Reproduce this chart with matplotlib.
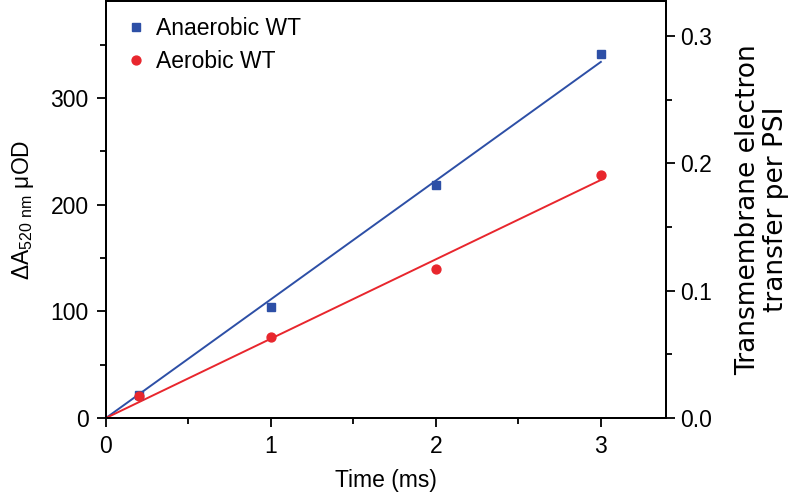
import matplotlib
matplotlib.use("Agg")
import matplotlib.pyplot as plt
from matplotlib.ticker import MultipleLocator, FormatStrFormatter

plt.rcParams['font.family'] = ['Liberation Sans', 'DejaVu Sans']
plt.rcParams['mathtext.fontset'] = 'custom'
plt.rcParams['mathtext.rm'] = 'Liberation Sans'

# data
time = [0.2, 1.0, 2.0, 3.0]
anaerobic = [22, 104, 218, 341]
aerobic = [21, 76, 140, 228]
fit_t = [0, 3]
anaerobic_slope = 111.3
aerobic_slope = 74.4

blue = '#2d4fa6'
red = '#e8262d'
fs = 16.5

fig = plt.figure(figsize=(7.88, 5.01), dpi=100)
ax = fig.add_axes([0.1345, 0.1657, 0.7105, 0.8323])

ax.plot(time, anaerobic, 's', color=blue, ms=5.4, label='Anaerobic WT', zorder=3)
ax.plot(time, aerobic, 'o', color=red, ms=6.4, label='Aerobic WT', zorder=3)
ax.plot(fit_t, [t * anaerobic_slope for t in fit_t], '-', color=blue, lw=1.4)
ax.plot(fit_t, [t * aerobic_slope for t in fit_t], '-', color=red, lw=1.4)

ax.set_xlim(0, 3.394)
ax.set_ylim(0, 391)
ax.xaxis.set_major_locator(MultipleLocator(1))
ax.xaxis.set_minor_locator(MultipleLocator(0.5))
ax.yaxis.set_major_locator(MultipleLocator(100))
ax.yaxis.set_minor_locator(MultipleLocator(50))
ax.tick_params(which='both', direction='out', labelsize=fs, width=1.3,
               top=False, right=False)
ax.tick_params(which='major', length=6.5)
ax.tick_params(which='minor', length=4)
ax.tick_params(axis='x', pad=6)
ax.tick_params(axis='y', pad=6)
for s in ax.spines.values():
    s.set_linewidth(1.4)

ax.set_xlabel('Time (ms)', fontsize=fs, labelpad=8)
ax.set_ylabel(r'$\Delta$A$_{\mathregular{520\ nm}}$ $\mathregular{\mu}$OD', fontsize=fs, labelpad=10)

ax2 = ax.twinx()
ax2.set_ylim(0, 0.3276)
ax2.yaxis.set_major_locator(MultipleLocator(0.1))
ax2.yaxis.set_minor_locator(MultipleLocator(0.05))
ax2.yaxis.set_major_formatter(FormatStrFormatter('%.1f'))
ax2.tick_params(which='both', direction='out', labelsize=fs, width=1.3)
ax2.tick_params(which='major', length=6.5)
ax2.tick_params(which='minor', length=4)
ax2.set_ylabel('Transmembrane electron\ntransfer per PSI', fontsize=19,
               family='DejaVu Sans', labelpad=17, linespacing=1.1)
for s in ax2.spines.values():
    s.set_linewidth(1.4)

leg = ax.legend(loc='upper left', frameon=False, fontsize=fs, handletextpad=0.3,
                handlelength=1.2, borderaxespad=0.3, labelspacing=0.45,
                bbox_to_anchor=(0.0, 1.0))

fig.savefig('out.png', dpi=100)
